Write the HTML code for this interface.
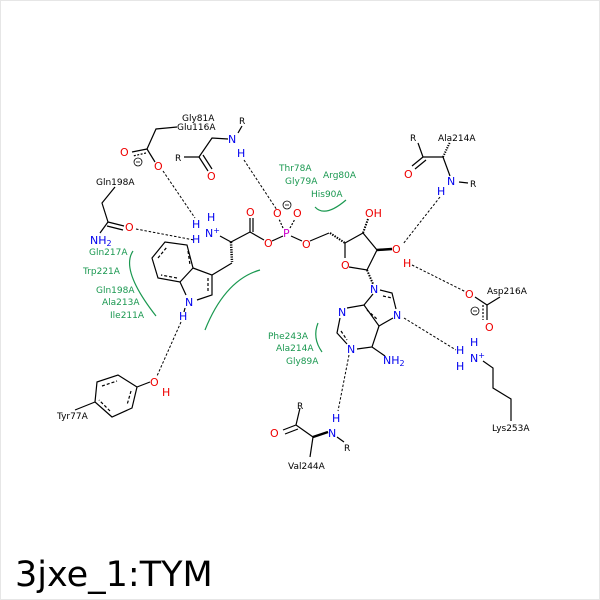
<!DOCTYPE html>
<html><head><meta charset="utf-8"><style>
html,body{margin:0;padding:0;background:#fff}
svg{display:block}
text{font-family:"DejaVu Sans","Liberation Sans",sans-serif}
.k{fill:#000;font-size:9px}
.g{fill:#1a9850;font-size:9px}
.o{fill:#e00;font-size:11px}
.n{fill:#00e;font-size:11px}
.p{fill:#c0c;font-size:11px}
</style></head><body>
<svg width="600" height="600" viewBox="0 0 600 600">
<rect x="0.5" y="0.5" width="599" height="599" fill="#fff" stroke="#e6e6e6"/>
<g stroke="#000" stroke-width="1.2" fill="none">
<polyline points="177,127 156,129 147,149"/>
<line x1="147" y1="149" x2="132" y2="152"/><line x1="146" y1="153" x2="133" y2="156" stroke-dasharray="2,1.5"/>
<line x1="147" y1="149" x2="155" y2="162"/>
<polyline points="228,139 212,138 199,157 184,157"/>
<line x1="199" y1="157" x2="208" y2="171"/><line x1="203" y1="155" x2="212" y2="169"/>
<line x1="238" y1="133" x2="242" y2="126"/>
<polyline points="115,187 102,203 108,222"/>
<line x1="108" y1="222" x2="124" y2="226"/><line x1="107" y1="226" x2="123" y2="230"/>
<line x1="108" y1="222" x2="100" y2="233"/>
<line x1="220" y1="236" x2="231" y2="242"/>
<line x1="231" y1="242" x2="250" y2="232"/>
<line x1="250" y1="232" x2="250" y2="218"/><line x1="253" y1="232" x2="253" y2="218"/>
<line x1="250" y1="232" x2="264" y2="240"/>
<line x1="272" y1="241" x2="283" y2="236"/>
<line x1="291" y1="236" x2="302" y2="241"/>
<line x1="283" y1="228" x2="279" y2="219" stroke-dasharray="2,1.5"/>
<line x1="290" y1="228" x2="295" y2="219" stroke-dasharray="2,1.5"/>
<line x1="310" y1="241" x2="329" y2="233"/>
<!-- indole -->
<polygon points="152,258 165,242 187,245 193,268 180,282 158,278"/>
<line x1="158" y1="258" x2="167" y2="247" stroke-dasharray="3,2"/>
<line x1="188" y1="251" x2="190" y2="265" stroke-dasharray="3,2"/>
<line x1="177" y1="278" x2="161" y2="275" stroke-dasharray="3,2"/>
<polyline points="193,268 212,275 212,295 197,300"/>
<line x1="180" y1="282" x2="186" y2="295"/>
<line x1="208" y1="278" x2="208" y2="292" stroke-dasharray="3,2"/>
<line x1="212" y1="275" x2="232" y2="263"/>
<line x1="185" y1="308" x2="184" y2="312"/>
<!-- ribose -->
<polyline points="345,243 363,233 377,250 367,270 349,267"/>
<line x1="345" y1="243" x2="345" y2="258"/>
<line x1="377" y1="250" x2="392" y2="249" stroke-width="2.5"/>
<line x1="367" y1="270" x2="373" y2="284" stroke-dasharray="1.5,1.2" stroke-width="2"/>
<line x1="330" y1="233" x2="345" y2="243" stroke-dasharray="1.5,1.2" stroke-width="2"/>
<line x1="363" y1="233" x2="368" y2="219" stroke-dasharray="1.5,1.2" stroke-width="2"/>
<line x1="231" y1="242" x2="232" y2="262" stroke-dasharray="1.2,1.2" stroke-width="2.5"/>
<!-- adenine -->
<polyline points="364,305 373,294"/>
<polyline points="380,290 392,293 396,309"/>
<polyline points="393,318 379,326 364,305 347,308"/>
<polyline points="340,318 337,333 347,344"/>
<polyline points="357,349 372,347 379,326"/>
<line x1="372" y1="347" x2="385" y2="356"/>
<line x1="383" y1="296" x2="392" y2="298" stroke-dasharray="3,2"/>
<line x1="367" y1="310" x2="378" y2="320" stroke-dasharray="3,2"/>
<line x1="341" y1="331" x2="347" y2="340" stroke-dasharray="3,2"/>
<!-- Ala214 -->
<polyline points="418,143 423,157 443,157"/>
<line x1="423" y1="157" x2="412" y2="166"/><line x1="426" y1="160" x2="415" y2="169"/>
<line x1="443" y1="157" x2="450" y2="176"/>
<line x1="443" y1="157" x2="450" y2="142" stroke-dasharray="1.2,1.2" stroke-width="2"/>
<line x1="459" y1="182" x2="468" y2="183"/>
<!-- Asp216 -->
<line x1="475" y1="297" x2="487" y2="305"/>
<line x1="487" y1="305" x2="500" y2="297"/>
<line x1="487" y1="305" x2="487" y2="320"/><line x1="483" y1="305" x2="483" y2="320" stroke-dasharray="2,1.5"/>
<!-- Lys253 -->
<polyline points="483,361 493,368 493,388 511,399 511,421"/>
<!-- Val244 -->
<polyline points="300,408 296,425 313,437"/>
<line x1="296" y1="425" x2="283" y2="430"/><line x1="298" y1="429" x2="285" y2="434"/>
<line x1="313" y1="437" x2="328" y2="432" stroke-width="2.5"/>
<line x1="313" y1="437" x2="310" y2="457"/>
<line x1="337" y1="437" x2="344" y2="442"/>
<!-- Tyr -->
<polygon points="97,382 118,375 137,387 132,408 112,417 95,402"/>
<line x1="102" y1="386" x2="117" y2="381" stroke-dasharray="3,2"/>
<line x1="131" y1="391" x2="127" y2="405" stroke-dasharray="3,2"/>
<line x1="110" y1="411" x2="99" y2="400" stroke-dasharray="3,2"/>
<line x1="137" y1="387" x2="150" y2="382"/>
<line x1="95" y1="402" x2="75" y2="410"/>
</g>
<g stroke="#000" stroke-width="1" stroke-dasharray="2.5,1.8" fill="none">
<line x1="163" y1="171" x2="195" y2="218"/>
<line x1="136" y1="229" x2="194" y2="240"/>
<line x1="244" y1="160" x2="277" y2="210"/>
<line x1="440" y1="197" x2="403" y2="244"/>
<line x1="412" y1="265" x2="466" y2="292"/>
<line x1="404" y1="318" x2="456" y2="350"/>
<line x1="349" y1="355" x2="338" y2="411"/>
<line x1="181" y1="322" x2="157" y2="376"/>
</g>
<g stroke="#1a9850" stroke-width="1.2" fill="none">
<path d="M315,207 Q325,218 346,200"/>
<path d="M133,251 Q120,270 156,316"/>
<path d="M318,323 Q312,338 322,352"/>
<path d="M260,270 Q225,280 205,330"/>
</g>
<text class="k" x="182" y="121">Gly81A</text>
<text class="k" x="177" y="130">Glu116A</text>
<text class="k" x="239" y="124">R</text>
<text class="n" x="228" y="143">N</text>
<text class="n" x="237" y="157">H</text>
<text class="k" x="175" y="161">R</text>
<text class="o" x="207" y="180">O</text>
<text class="o" x="120" y="156">O</text>
<text class="o" x="154" y="170">O</text>
<circle cx="138" cy="162" r="4" fill="none" stroke="#000" stroke-width="0.8"/><line x1="136" y1="162" x2="140" y2="162" stroke="#000" stroke-width="0.8"/>
<text class="k" x="96" y="185">Gln198A</text>
<text class="o" x="125" y="231">O</text>
<text class="n" x="90" y="244">NH<tspan font-size="8" dy="2">2</tspan></text>
<text class="n" x="207" y="221">H</text>
<text class="n" x="192" y="228">H</text>
<text class="n" x="192" y="243">H</text>
<text class="n" x="205" y="237">N<tspan font-size="8" dy="-4">+</tspan></text>
<text class="o" x="246" y="216">O</text>
<text class="o" x="264" y="247">O</text>
<text class="o" x="273" y="217">O</text>
<text class="o" x="293" y="217">O</text>
<circle cx="287" cy="205" r="4" fill="none" stroke="#000" stroke-width="0.8"/><line x1="285" y1="205" x2="289" y2="205" stroke="#000" stroke-width="0.8"/>
<text class="p" x="283" y="237">P</text>
<text class="o" x="302" y="248">O</text>
<text class="o" x="341" y="269">O</text>
<text class="o" x="365" y="217">OH</text>
<text class="o" x="392" y="253">O</text>
<text class="o" x="403" y="267">H</text>
<text class="n" x="370" y="293">N</text>
<text class="n" x="393" y="319">N</text>
<text class="n" x="338" y="316">N</text>
<text class="n" x="347" y="353">N</text>
<text class="n" x="383" y="364">NH<tspan font-size="8" dy="2">2</tspan></text>
<text class="n" x="185" y="306">N</text>
<text class="n" x="179" y="320">H</text>
<text class="o" x="150" y="386">O</text>
<text class="o" x="162" y="396">H</text>
<text class="k" x="57" y="419">Tyr77A</text>
<text class="k" x="410" y="141">R</text>
<text class="k" x="438" y="141">Ala214A</text>
<text class="o" x="404" y="178">O</text>
<text class="n" x="447" y="185">N</text>
<text class="k" x="470" y="187">R</text>
<text class="n" x="437" y="195">H</text>
<text class="k" x="487" y="294">Asp216A</text>
<text class="o" x="465" y="298">O</text>
<text class="o" x="485" y="331">O</text>
<circle cx="475" cy="311" r="4" fill="none" stroke="#000" stroke-width="0.8"/><line x1="473" y1="311" x2="477" y2="311" stroke="#000" stroke-width="0.8"/>
<text class="n" x="470" y="346">H</text>
<text class="n" x="456" y="354">H</text>
<text class="n" x="456" y="370">H</text>
<text class="n" x="470" y="362">N<tspan font-size="8" dy="-4">+</tspan></text>
<text class="k" x="492" y="431">Lys253A</text>
<text class="k" x="297" y="409">R</text>
<text class="o" x="270" y="437">O</text>
<text class="n" x="332" y="422">H</text>
<text class="n" x="328" y="437">N</text>
<text class="k" x="344" y="451">R</text>
<text class="k" x="288" y="469">Val244A</text>
<text class="g" x="279" y="171">Thr78A</text>
<text class="g" x="285" y="184">Gly79A</text>
<text class="g" x="323" y="178">Arg80A</text>
<text class="g" x="311" y="197">His90A</text>
<text class="g" x="89" y="255">Gln217A</text>
<text class="g" x="83" y="274">Trp221A</text>
<text class="g" x="96" y="293">Gln198A</text>
<text class="g" x="102" y="305">Ala213A</text>
<text class="g" x="110" y="318">Ile211A</text>
<text class="g" x="268" y="339">Phe243A</text>
<text class="g" x="276" y="351">Ala214A</text>
<text class="g" x="286" y="364">Gly89A</text>
<text x="15" y="586" font-size="35" fill="#000" font-family="DejaVu Sans,Liberation Sans,sans-serif">3jxe_1:TYM</text>
</svg>
</body></html>
